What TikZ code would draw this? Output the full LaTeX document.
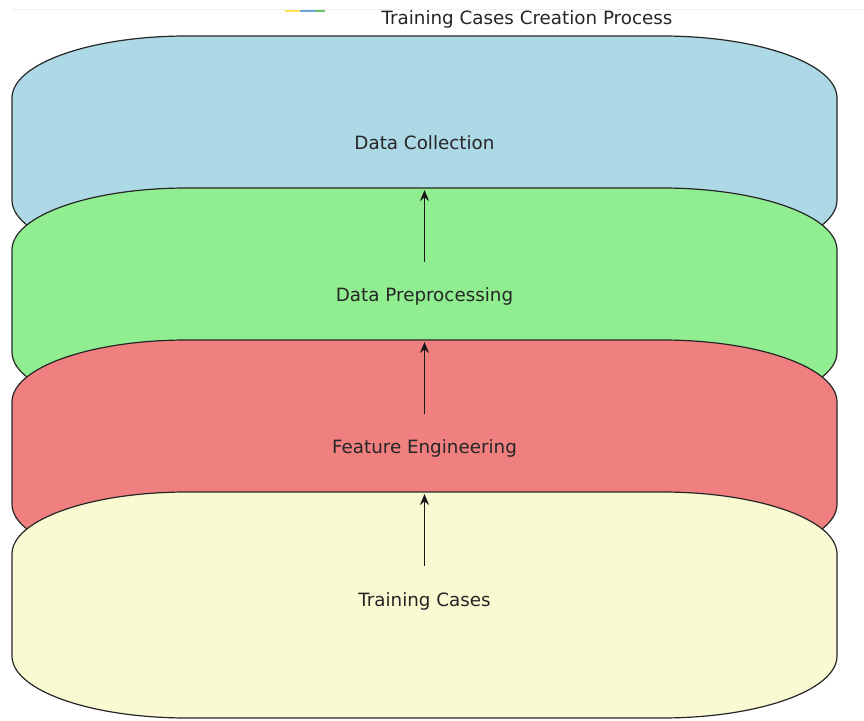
\documentclass[tikz,border=0pt]{standalone}
\usepackage{fontspec}
\setmainfont{DejaVu Sans}
\usetikzlibrary{arrows.meta}
\definecolor{stageblue}{HTML}{ADD8E6}
\definecolor{stagegreen}{HTML}{90EE90}
\definecolor{stagered}{HTML}{F08080}
\definecolor{stageyellow}{HTML}{FAFAD2}
% one rounded stage box: #1 name, #2 fill, #3 bottom
\newcommand{\stagebox}[3]{%
  \filldraw[stage,fill=#2] (12,#3+62)
    arc[start angle=180,end angle=270,x radius=175,y radius=62] -- (662,#3)
    arc[start angle=270,end angle=360,x radius=175,y radius=62] -- (837,#3+164)
    arc[start angle=0,end angle=90,x radius=175,y radius=62] -- (187,#3+226)
    arc[start angle=90,end angle=180,x radius=175,y radius=62] -- cycle;
  \coordinate (#1-bot) at (424.5,#3);
  \coordinate (#1-top) at (424.5,#3+224);}
\begin{document}
\begin{tikzpicture}[x=1pt,y=1pt,
    stage/.style={draw=black!85,line width=1.2pt},
    flow/.style={-{Stealth[length=11pt,width=9pt]},line width=1.6pt,draw=black!90},
    lbl/.style={font=\fontsize{18.3}{21}\selectfont,text=black!85}]
  \useasboundingbox (0,0) rectangle (864,720);
  \draw[black!6,line width=1pt] (12,710) -- (864,710);
  \draw[yellow!80!orange!70,line width=2pt] (285,709) -- (300,709);
  \draw[cyan!60!blue!60,line width=2pt] (300,709) -- (315,709);
  \draw[green!60!black!60,line width=2pt] (315,709) -- (325,709);
  \node[lbl] (title) at (527,701) {Training Cases Creation Process};
  \stagebox{collect}{stageblue}{458}
  \stagebox{prep}{stagegreen}{306}
  \stagebox{feat}{stagered}{154}
  \stagebox{cases}{stageyellow}{2}
  \node[lbl] (collectlbl) at (424.5,577) {Data Collection};
  \node[lbl] (preplbl) at (424.5,424) {Data Preprocessing};
  \node[lbl] (featlbl) at (424.5,272) {Feature Engineering};
  \node[lbl] (caseslbl) at (424.5,119) {Training Cases};
  \draw[flow] (collect-bot) -- (prep-top);
  \draw[flow] (prep-bot) -- (feat-top);
  \draw[flow] (feat-bot) -- (cases-top);
\end{tikzpicture}
\end{document}
